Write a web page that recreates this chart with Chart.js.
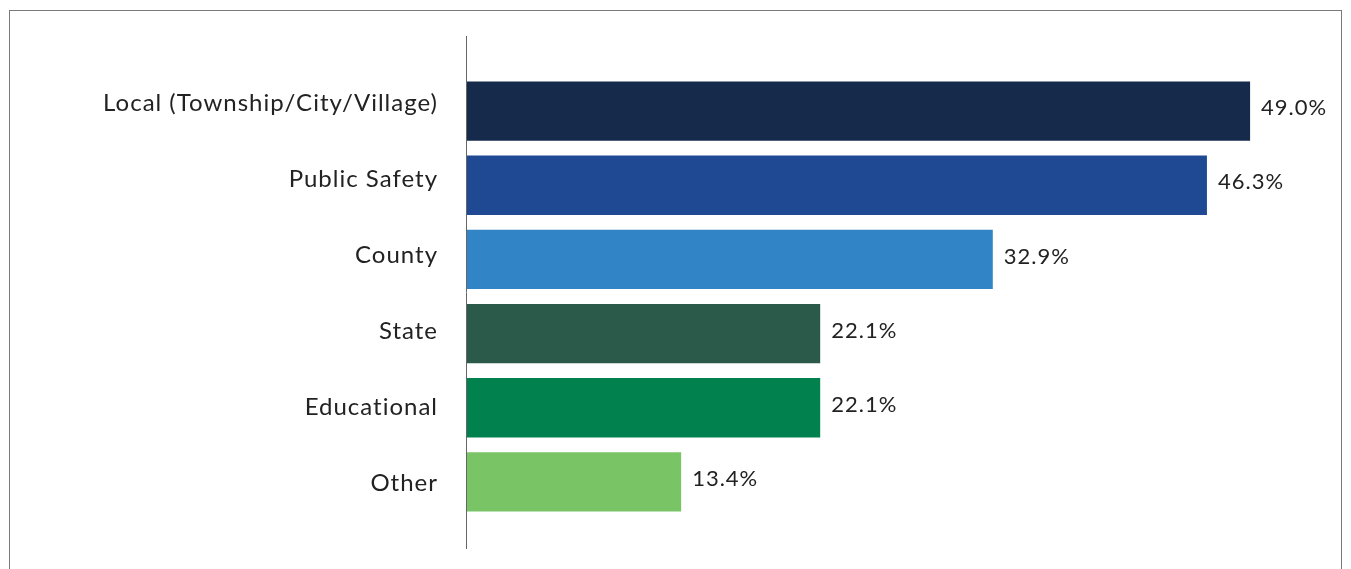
<!DOCTYPE html>
<html>
<head>
<meta charset="utf-8">
<script src="https://cdn.jsdelivr.net/npm/chart.js@4"></script>
<style>
  html, body { margin: 0; padding: 0; background: #fff; overflow: hidden; }
  #frame {
    position: absolute; left: 9px; top: 10px; width: 1331px; height: 600px;
    border: 1px solid #7a7a7a; border-bottom: none;
  }
  #wrap { position: absolute; left: 0; top: 0; width: 1351px; height: 569px; }
</style>
</head>
<body>
<div id="frame"></div>
<div id="wrap"><canvas id="chartSecteurs" width="1351" height="569"></canvas></div>
<script>
// categories and shares (%)
var categories = ["Local (Township/City/Village)", "Public Safety", "County", "State", "Educational", "Other"];
var shares = [49.0, 46.3, 32.9, 22.1, 22.1, 13.4];
var barColors = ['#162a4c', '#1f4a93', '#3184c6', '#2b5a4a', '#00814e', '#79c566'];

var FONT = "Lato, 'Open Sans', sans-serif";
// category labels are spaced a bit wider than the bars
var LABEL_TOP = -7.5;
var LABEL_STEP = 75.9;

// a little tracking on all text
var spacing = {
    id: 'spacing',
    beforeDraw: function (chart) {
        chart.ctx.letterSpacing = '1px';
    }
};

// spread the category labels out
var labelSpread = {
    id: 'labelSpread',
    beforeDraw: function (chart) {
        var scale = chart.scales.y;
        var y0 = scale.getPixelForTick(0) + LABEL_TOP;
        scale.getLabelItems(chart.chartArea).forEach(function (item, i) {
            item.options.translation[1] = y0 + i * LABEL_STEP;
        });
    }
};

// value labels at the end of each bar
var valueLabels = {
    id: 'valueLabels',
    afterDatasetsDraw: function (chart) {
        var ctx = chart.ctx;
        var meta = chart.getDatasetMeta(0);
        ctx.save();
        ctx.letterSpacing = '1px';
        ctx.font = '22px ' + FONT;
        ctx.fillStyle = '#222';
        ctx.textAlign = 'left';
        ctx.textBaseline = 'middle';
        meta.data.forEach(function (bar, i) {
            ctx.fillText(shares[i].toFixed(1) + '%', bar.x + 11, bar.y - 3);
        });
        ctx.restore();
    }
};

// the category axis line runs past the bars on both ends
var axisLine = {
    id: 'axisLine',
    afterDraw: function (chart) {
        var ctx = chart.ctx;
        var x = Math.round(chart.chartArea.left) - 0.5;
        ctx.save();
        ctx.strokeStyle = '#666';
        ctx.lineWidth = 1;
        ctx.beginPath();
        ctx.moveTo(x, 36);
        ctx.lineTo(x, 549);
        ctx.stroke();
        ctx.restore();
    }
};

const ctx = document.getElementById('chartSecteurs');
new Chart(ctx, {
    type: 'bar',
    data: {
        labels: categories,
        datasets: [{
            data: shares,
            backgroundColor: barColors,
            barPercentage: 0.8,
            categoryPercentage: 1.0
        }]
    },
    options: {
        indexAxis: 'y',
        responsive: false,
        animation: false,
        devicePixelRatio: 1,
        layout: { padding: { top: 74, bottom: 50, right: 21, left: 0 } },
        plugins: {
            legend: { display: false },
            tooltip: { enabled: false }
        },
        scales: {
            x: {
                display: false,
                min: 0,
                max: 54
            },
            y: {
                grid: { display: false },
                border: { display: false },
                afterFit: function (scale) { scale.width = 467; },
                ticks: {
                    color: '#222',
                    padding: 21,
                    font: { family: FONT, size: 24 }
                }
            }
        }
    },
    plugins: [spacing, labelSpread, valueLabels, axisLine]
});
</script>
</body>
</html>
